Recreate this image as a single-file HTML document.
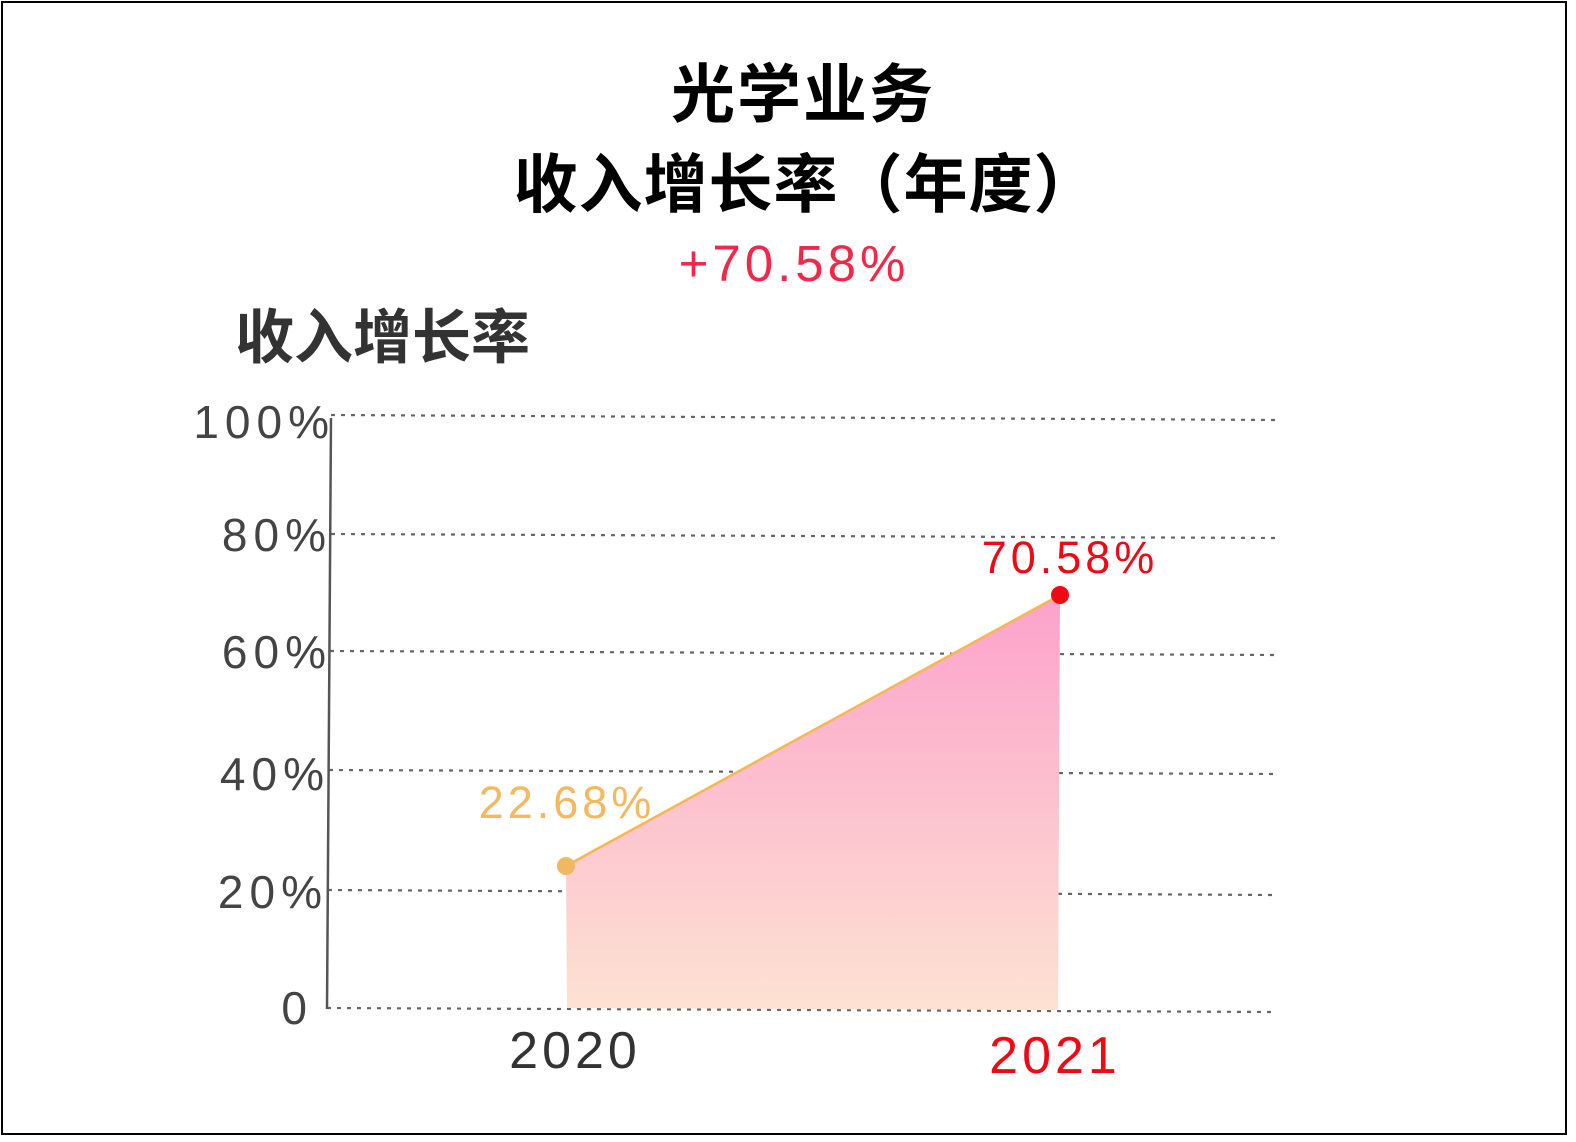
<!DOCTYPE html>
<html><head><meta charset="utf-8"><style>
html,body{margin:0;padding:0;background:#fff;}
svg{display:block;}
text{font-family:"Liberation Sans","Noto Sans CJK SC",sans-serif;}
</style></head><body>
<svg width="1576" height="1142" viewBox="0 0 1576 1142" xmlns="http://www.w3.org/2000/svg">
<defs>
<linearGradient id="g" x1="0" y1="0" x2="0" y2="1">
<stop offset="0" stop-color="#fca2cb"/>
<stop offset="1" stop-color="#fde2d2"/>
</linearGradient>
</defs>
<rect x="2" y="2" width="1564" height="1132" fill="#fff" stroke="#000" stroke-width="2"/>
<text x="803" y="117" text-anchor="middle" font-size="64" font-weight="bold" fill="#000" letter-spacing="2">光学业务</text>
<text x="806" y="207" text-anchor="middle" font-size="64" font-weight="bold" fill="#000" letter-spacing="1">收入增长率（年度）</text>
<text x="794" y="281" text-anchor="middle" font-size="51" fill="#f0284a" letter-spacing="4">+70.58%</text>
<text x="235" y="358" font-size="59" font-weight="bold" fill="#333">收入增长率</text>
<g stroke="#666" stroke-width="2.2" stroke-dasharray="4,6" fill="none">
<line x1="331" y1="415" x2="1278" y2="420"/>
<line x1="331" y1="534" x2="1278" y2="538"/>
<line x1="330" y1="651" x2="1278" y2="655"/>
<line x1="329" y1="770" x2="1278" y2="774"/>
<line x1="328" y1="890" x2="1275" y2="895"/>
<line x1="327" y1="1008" x2="1275" y2="1012"/>
</g>
<line x1="331" y1="418" x2="327" y2="1009" stroke="#555" stroke-width="2.5"/>
<g font-size="46" fill="#444" text-anchor="end" letter-spacing="6">
<text x="335" y="438">100%</text>
<text x="332" y="551">80%</text>
<text x="332" y="668">60%</text>
<text x="330" y="790">40%</text>
<text x="328" y="908">20%</text>
<text x="313" y="1024">0</text>
</g>
<polygon points="566,866 1060,595 1058,1010 567,1008" fill="url(#g)"/>
<line x1="566" y1="866" x2="1060" y2="595" stroke="#f5b850" stroke-width="2.5"/>
<circle cx="566" cy="866" r="9" fill="#f0b860"/>
<circle cx="1060" cy="595" r="9" fill="#ee0a14"/>
<text x="567" y="818" text-anchor="middle" font-size="45" fill="#f5b860" letter-spacing="4">22.68%</text>
<text x="1070" y="573" text-anchor="middle" font-size="45" fill="#ee0a14" letter-spacing="4">70.58%</text>
<text x="575" y="1068" text-anchor="middle" font-size="52" fill="#333" letter-spacing="4">2020</text>
<text x="1055" y="1073" text-anchor="middle" font-size="52" fill="#ee0a14" letter-spacing="4">2021</text>
</svg>
</body></html>
